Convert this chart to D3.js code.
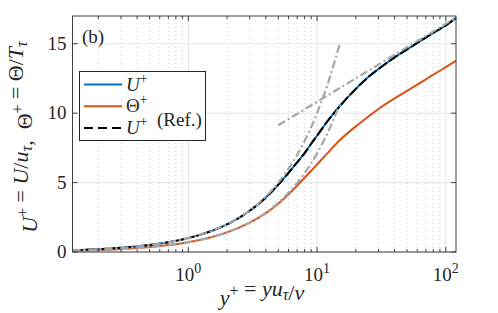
<!DOCTYPE html>
<html>
<head>
<meta charset="utf-8">
<script src="https://cdn.jsdelivr.net/npm/d3@7"></script>
<style>
  body { margin: 0; background: #fff; }
  text { font-family: "Liberation Serif", "DejaVu Serif", serif; fill: #262626; }
</style>
</head>
<body>
<div id="chart"></div>
<script>
// profiles
var yPlus     = [0.126, 0.2, 0.3, 0.5, 0.7, 1, 1.5, 2, 3, 4, 5, 6, 7, 8, 9, 10, 12, 15, 20, 25, 30, 40, 50, 60, 80, 100, 120];
var uPlus     = [0.126, 0.2, 0.3, 0.5, 0.7, 1.0, 1.5, 1.99, 2.97, 3.92, 4.85, 5.7, 6.45, 7.12, 7.8, 8.38, 9.4, 10.5, 11.75, 12.6, 13.18, 14.02, 14.6, 15.06, 15.78, 16.33, 16.85];
var uRef      = [0.126, 0.2, 0.3, 0.5, 0.7, 1.0, 1.5, 1.99, 2.97, 3.92, 4.85, 5.7, 6.45, 7.12, 7.8, 8.38, 9.4, 10.5, 11.75, 12.6, 13.18, 14.02, 14.6, 15.06, 15.78, 16.33, 16.85];
var thetaPlus = [0.089, 0.142, 0.213, 0.355, 0.5, 0.71, 1.06, 1.41, 2.11, 2.8, 3.48, 4.15, 4.78, 5.35, 5.85, 6.3, 7.1, 8.05, 9.05, 9.75, 10.3, 11.06, 11.6, 12.05, 12.77, 13.32, 13.77];

// reference laws (grey dash-dot)
var subX     = [0.126, 0.2, 0.3, 0.5, 0.7, 1, 1.5, 2, 3, 4, 5, 6, 7, 8, 10, 12, 15];
var subU     = [0.126, 0.2, 0.3, 0.5, 0.7, 1, 1.5, 2, 3, 4, 5, 6, 7, 8, 10, 12, 15];
var subT     = [0.089, 0.142, 0.213, 0.355, 0.497, 0.71, 1.065, 1.42, 2.13, 2.84, 3.55, 4.26, 4.97, 5.68, 7.1, 8.52, 10.65];
var logX     = [5, 120];
var logU     = [9.13, 16.88];

var yTicks = [0, 5, 10, 15];
var xTicks = [1, 10, 100];
var xTickExp = ["0", "1", "2"];

var W = 498, H = 313;
var margin = {top: 16, right: 42, bottom: 61, left: 72.5};

var svg = d3.select("#chart").append("svg")
    .attr("width", W).attr("height", H);

var x = d3.scaleLog().domain([0.126, 120]).range([margin.left, W - margin.right]);
var y = d3.scaleLinear().domain([0, 17]).range([H - margin.bottom, margin.top]);

var x0 = x.range()[0], x1 = x.range()[1], y0 = y.range()[0], y1 = y.range()[1];

// minor x positions
var minor = [];
[0.1, 1, 10, 100].forEach(function(dec) {
  for (var k = 2; k <= 9; k++) {
    var v = dec * k;
    if (v >= 0.126 && v <= 120) minor.push(v);
  }
});

var grid = svg.append("g");
grid.selectAll(".mg").data(minor).enter().append("line")
    .attr("x1", d => x(d)).attr("x2", d => x(d))
    .attr("y1", y0).attr("y2", y1)
    .attr("stroke", "#cfcfcf").attr("stroke-width", 1)
    .attr("stroke-dasharray", "1,3");
grid.selectAll(".gx").data(xTicks).enter().append("line")
    .attr("x1", d => x(d)).attr("x2", d => x(d))
    .attr("y1", y0).attr("y2", y1)
    .attr("stroke", "#e3e3e3").attr("stroke-width", 1);
grid.selectAll(".gy").data(yTicks).enter().append("line")
    .attr("x1", x0).attr("x2", x1)
    .attr("y1", d => y(d)).attr("y2", d => y(d))
    .attr("stroke", "#e3e3e3").attr("stroke-width", 1);

// curves
var line = d3.line().x(d => x(d[0])).y(d => y(d[1])).curve(d3.curveMonotoneX);
var plot = svg.append("g");

plot.append("path")
    .datum(d3.zip(yPlus, uPlus))
    .attr("fill", "none").attr("stroke", "#0072BD").attr("stroke-width", 2)
    .attr("d", line);
plot.append("path")
    .datum(d3.zip(yPlus, thetaPlus))
    .attr("fill", "none").attr("stroke", "#D95319").attr("stroke-width", 2)
    .attr("d", line);
plot.append("path")
    .datum(d3.zip(yPlus, uRef))
    .attr("fill", "none").attr("stroke", "#000").attr("stroke-width", 2)
    .attr("stroke-dasharray", "10,3")
    .attr("d", line);

[d3.zip(subX, subU), d3.zip(subX, subT), d3.zip(logX, logU)].forEach(function(pts) {
  plot.append("path")
      .datum(pts)
      .attr("fill", "none").attr("stroke", "#a6a6a6").attr("stroke-width", 2.2)
      .attr("stroke-dasharray", "8,3,2,3")
      .attr("d", line);
});

// axes box and ticks (inside, MATLAB style)
var ax = svg.append("g").attr("stroke", "#404040").attr("stroke-width", 1);
ax.append("rect").attr("x", x0).attr("y", y1)
    .attr("width", x1 - x0).attr("height", y0 - y1)
    .attr("fill", "none");
ax.selectAll(".tm").data(minor).enter().append("path")
    .attr("d", d => "M" + x(d) + "," + y0 + "v-3M" + x(d) + "," + y1 + "v3");
ax.selectAll(".tM").data(xTicks).enter().append("path")
    .attr("d", d => "M" + x(d) + "," + y0 + "v-5M" + x(d) + "," + y1 + "v5");
ax.selectAll(".ty").data(yTicks).enter().append("path")
    .attr("d", d => "M" + x0 + "," + y(d) + "h5M" + x1 + "," + y(d) + "h-5");

// tick labels
svg.selectAll(".yl").data(yTicks).enter().append("text")
    .attr("x", x0 - 6).attr("y", d => y(d) + 6)
    .attr("text-anchor", "end").attr("font-size", 19)
    .text(d => d);

xTicks.forEach(function(d, i) {
  var t = svg.append("text")
      .attr("x", x(d)).attr("y", 281)
      .attr("text-anchor", "middle").attr("font-size", 19);
  t.append("tspan").text("10");
  t.append("tspan").attr("dy", -8).attr("font-size", 14).text(xTickExp[i]);
});

// rich text helper
function rich(t, parts, fs) {
  parts.forEach(function(p) {
    var s = t.append("tspan").text(p[0]);
    var st = p[1] || "";
    if (st.indexOf("i") >= 0) s.attr("font-style", "italic");
    if (st.indexOf("sup") >= 0) {
      s.attr("font-size", fs * 0.72).attr("dy", -fs * 0.42);
    } else if (st.indexOf("sub") >= 0) {
      s.attr("font-size", fs * 0.72).attr("dy", fs * 0.2);
    }
    // back to baseline
    if (st.indexOf("sup") >= 0) t.append("tspan").attr("dy", fs * 0.42).text("");
    if (st.indexOf("sub") >= 0) t.append("tspan").attr("dy", -fs * 0.2).text("");
  });
  return t;
}

var xl = svg.append("text").attr("x", 262).attr("y", 305)
    .attr("text-anchor", "middle").attr("font-size", 22)
    .style("white-space", "pre");
rich(xl, [["y", "i"], ["+", "sup"], [" = ", ""], ["yu", "i"], ["τ", "i sub"], ["/", ""], ["ν", "i"]], 22);

var yl = svg.append("text")
    .attr("transform", "translate(37,137) rotate(-90)")
    .attr("text-anchor", "middle").attr("font-size", 22)
    .style("white-space", "pre");
rich(yl, [["U", "i"], ["+", "sup"], [" = ", ""], ["U", "i"], ["/", ""], ["u", "i"], ["τ", "i sub"],
          [",  Θ", ""], ["+", "sup"], [" = Θ/", ""], ["T", "i"], ["τ", "i sub"]], 22);

svg.append("text").attr("x", 82).attr("y", 43).attr("font-size", 19).text("(b)");

// legend
var lg = svg.append("g");
lg.append("rect").attr("x", 79.5).attr("y", 71.5).attr("width", 126).attr("height", 69)
    .attr("fill", "#fff").attr("stroke", "#262626").attr("stroke-width", 1);
var legItems = [
  {c: "#0072BD", dash: null, parts: [["U", "i"], ["+", "sup"]]},
  {c: "#D95319", dash: null, parts: [["Θ", ""], ["+", "sup"]]},
  {c: "#000", dash: "9,5", parts: [["U", "i"], ["+", "sup"], ["  (Ref.)", ""]]}
];
legItems.forEach(function(it, i) {
  var yy = 84.5 + i * 21.7;
  lg.append("line").attr("x1", 84).attr("x2", 122).attr("y1", yy).attr("y2", yy)
      .attr("stroke", it.c).attr("stroke-width", 2)
      .attr("stroke-dasharray", it.dash);
  var t = lg.append("text").attr("x", 126).attr("y", yy + 6).attr("font-size", 19)
      .style("white-space", "pre");
  rich(t, it.parts, 19);
});
</script>
</body>
</html>
